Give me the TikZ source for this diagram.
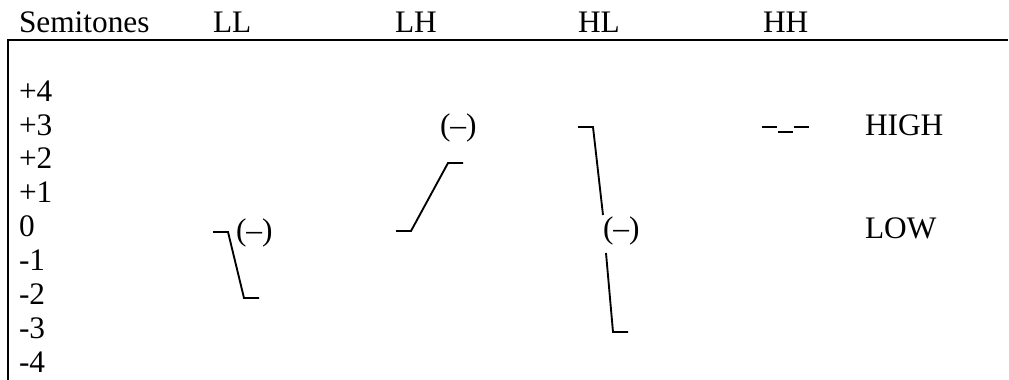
\documentclass[tikz,border=0pt]{standalone}
\usepackage{fontspec}
\setmainfont{Liberation Serif}
\begin{document}
\begin{tikzpicture}[x=0.75pt,y=-0.75pt,
  lbl/.style={anchor=base west,inner sep=0pt,outer sep=0pt,font=\fontsize{23.5}{28}\selectfont},
  frame/.style={line width=1.7pt},
  contour/.style={line width=1.4pt,line join=miter}]
\useasboundingbox (0,0) rectangle (1009,379);
% frame
\coordinate (tl) at (8,40);
\coordinate (tr) at (1008,40);
\coordinate (bl) at (8,380);
\draw[frame] (tr) -- (tl) -- (bl);
% header
\node[lbl] (sem) at (19,32) {Semitones};
\node[lbl] (hLL) at (213,32) {LL};
\node[lbl] (hLH) at (395,32) {LH};
\node[lbl] (hHL) at (578,32) {HL};
\node[lbl] (hHH) at (763,32) {HH};
% scale
\node[lbl] (p4) at (19,101) {+4};
\node[lbl] (p3) at (19,135) {+3};
\node[lbl] (p2) at (19,168) {+2};
\node[lbl] (p1) at (19,202) {+1};
\node[lbl] (z0) at (19,236) {0};
\node[lbl] (m1) at (19,270) {-1};
\node[lbl] (m2) at (19,304) {-2};
\node[lbl] (m3) at (19,338) {-3};
\node[lbl] (m4) at (19,372) {-4};
% LL
\draw[contour] (213,232) -- (228,232) -- (244,298) -- (259,298);
\node[lbl] (pLL) at (236,240) {(–)};
% LH
\draw[contour] (396,231) -- (411,231) -- (448,163) -- (463,163);
\node[lbl] (pLH) at (440,135) {(–)};
% HL
\draw[contour] (578,127) -- (593,127) -- (603,215);
\node[lbl] (pHL) at (603,238) {(–)};
\draw[contour] (606,253) -- (613,332) -- (628,332);
% HH
\draw[contour] (762,127) -- (777,127);
\draw[contour] (778,132) -- (793,132);
\draw[contour] (794,127) -- (809,127);
% register labels
\node[lbl] (high) at (865,135) {HIGH};
\node[lbl] (low) at (865,238) {LOW};
\end{tikzpicture}
\end{document}
